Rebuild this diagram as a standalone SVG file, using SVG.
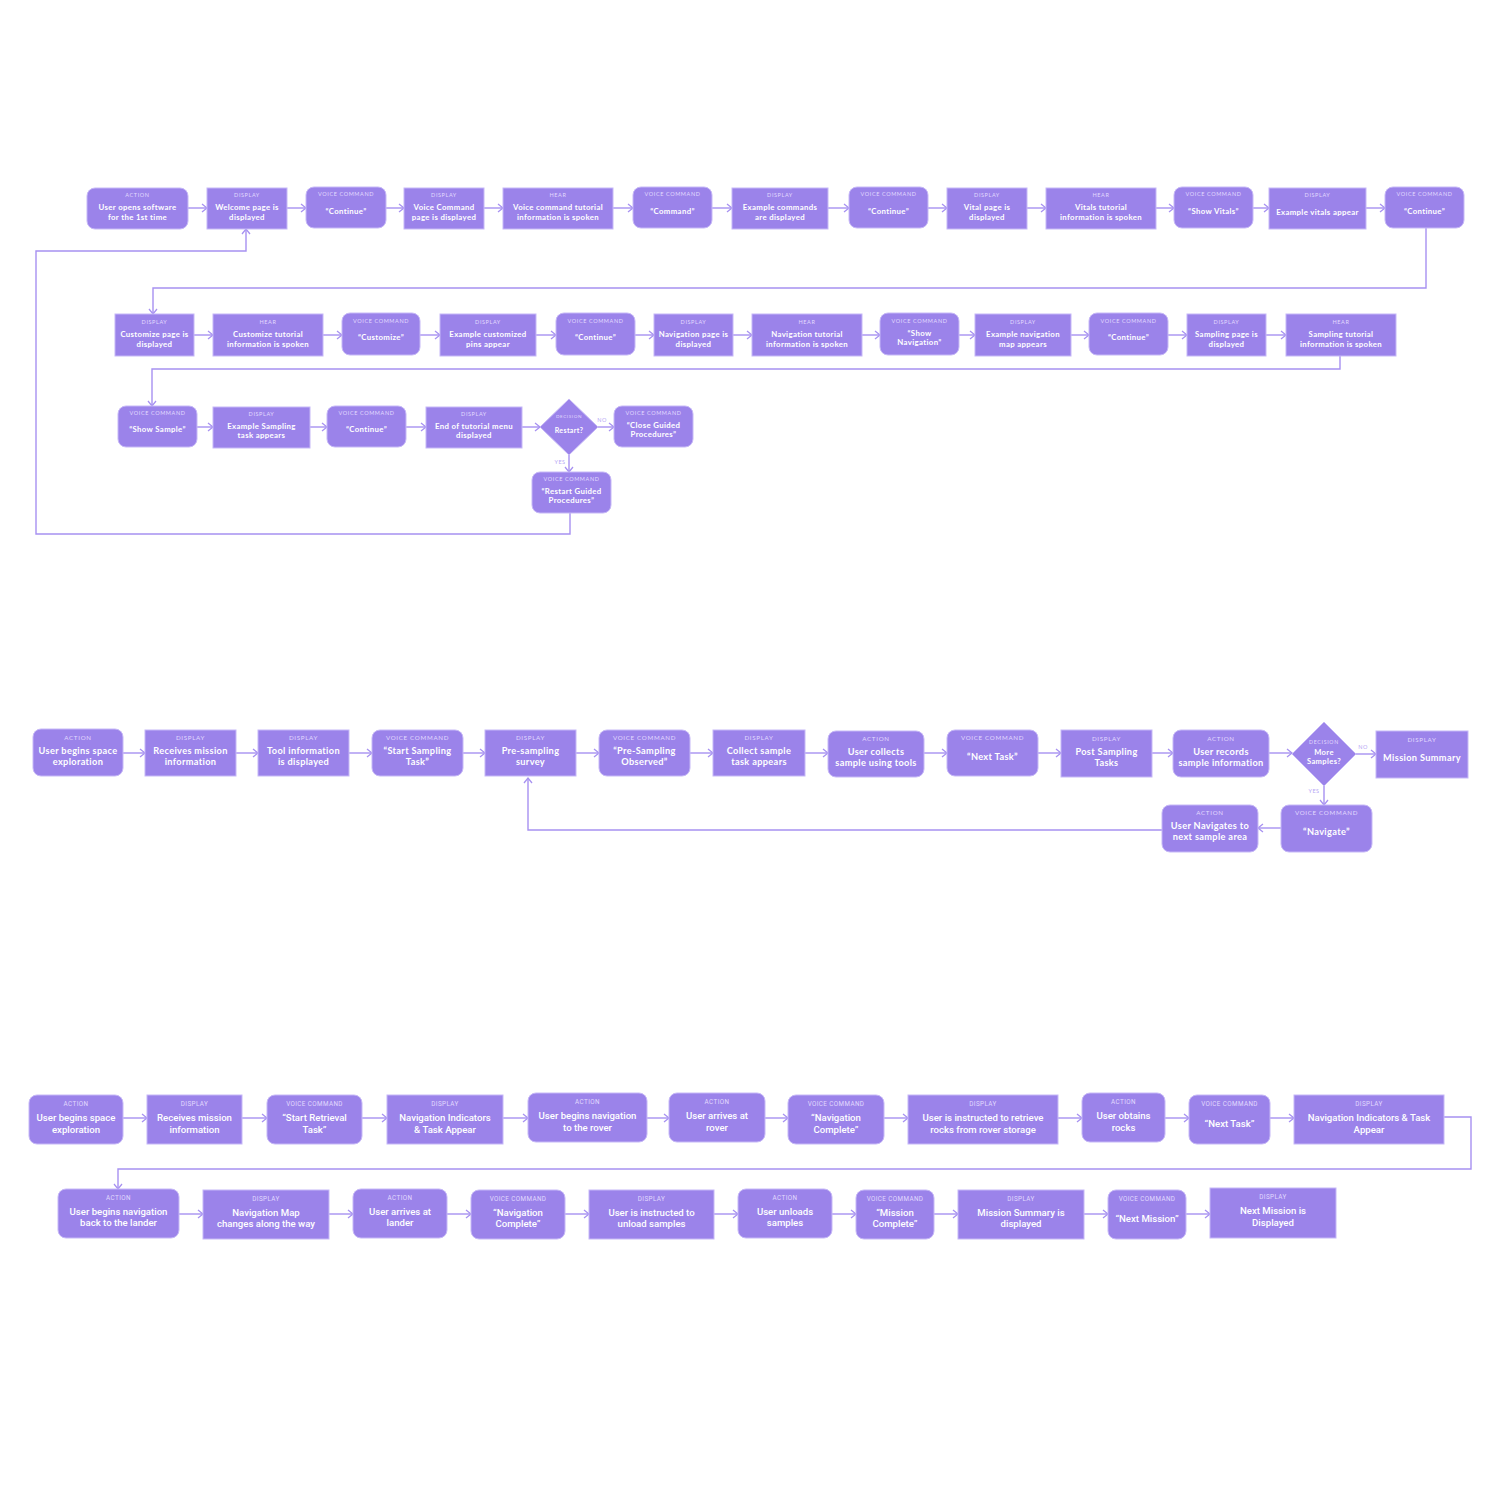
<svg xmlns="http://www.w3.org/2000/svg" width="1500" height="1500" viewBox="0 0 1500 1500">
<style>
.n{fill:#9b83ea;stroke:#c6b8f7;stroke-width:1}
.l{font-family:Lato,"Open Sans",sans-serif;font-size:5.5px;fill:#e2daff;letter-spacing:0.6px;text-anchor:middle}
.t{font-family:Lato,"Open Sans",sans-serif;font-weight:bold;font-size:7.8px;fill:#ffffff;text-anchor:middle;letter-spacing:0.35px}
.l2{font-family:Lato,"Open Sans",sans-serif;font-size:6.2px;fill:#e2daff;letter-spacing:0.7px;text-anchor:middle}
.t2{font-family:Lato,"Open Sans",sans-serif;font-weight:bold;font-size:9.2px;fill:#ffffff;text-anchor:middle;letter-spacing:0.35px}
.l3{font-family:Roboto,"Open Sans",sans-serif;font-size:6.3px;fill:#e2daff;letter-spacing:0.4px;text-anchor:middle}
.t3{font-family:Roboto,"Open Sans",sans-serif;font-weight:500;font-size:9.6px;fill:#ffffff;text-anchor:middle}
.c{fill:none;stroke:#a791f1;stroke-width:1.4;marker-end:url(#ah)}
.yn{font-family:Lato,sans-serif;font-size:5.5px;fill:#b6a6f5;letter-spacing:0.5px;text-anchor:middle}
</style>
<defs>
<marker id="ah" markerUnits="userSpaceOnUse" markerWidth="10" markerHeight="10" refX="6" refY="5" orient="auto">
<path d="M1,1 L6,5 L1,9" fill="none" stroke="#a791f1" stroke-width="1.3"/>
</marker>
</defs>
<rect width="1500" height="1500" fill="#ffffff"/>

<g id="connectors">
<path class="c" d="M188,208 H207"/>
<path class="c" d="M287,208 H306"/>
<path class="c" d="M386,208 H404"/>
<path class="c" d="M484,208 H503"/>
<path class="c" d="M613,208 H633"/>
<path class="c" d="M712,208 H732"/>
<path class="c" d="M828,208 H849"/>
<path class="c" d="M928,208 H947"/>
<path class="c" d="M1027,208 H1046"/>
<path class="c" d="M1156,208 H1174"/>
<path class="c" d="M1253,208 H1269"/>
<path class="c" d="M1366,208 H1385"/>
<path class="c" d="M1426,228 V288 H153 V314"/>
<path class="c" d="M194,335 H213"/>
<path class="c" d="M323,335 H342"/>
<path class="c" d="M420,335 H440"/>
<path class="c" d="M536,335 H556"/>
<path class="c" d="M635,335 H654"/>
<path class="c" d="M733,335 H752"/>
<path class="c" d="M862,335 H880"/>
<path class="c" d="M959,335 H975"/>
<path class="c" d="M1071,335 H1089"/>
<path class="c" d="M1168,335 H1187"/>
<path class="c" d="M1266,335 H1286"/>
<path class="c" d="M1340,356 V369 H152 V406"/>
<path class="c" d="M197,427 H213"/>
<path class="c" d="M310,427 H327"/>
<path class="c" d="M406,427 H426"/>
<path class="c" d="M522,427 H540"/>
<path class="c" d="M598,427 H614"/>
<path class="c" d="M569,455 V472"/>
<path class="c" d="M570,513 V534 H36 V251 H246 V229"/>
<text class="yn" x="602" y="422">NO</text>
<text class="yn" x="560" y="464">YES</text>
<path class="c" d="M123,753 H145"/>
<path class="c" d="M236,753 H258"/>
<path class="c" d="M349,753 H372"/>
<path class="c" d="M463,753 H485"/>
<path class="c" d="M576,753 H599"/>
<path class="c" d="M690,753 H713"/>
<path class="c" d="M805,753 H828"/>
<path class="c" d="M924,753 H947"/>
<path class="c" d="M1038,753 H1061"/>
<path class="c" d="M1152,753 H1173"/>
<path class="c" d="M1269,753 H1292"/>
<path class="c" d="M1356,754 H1376"/>
<path class="c" d="M1324,786 V805"/>
<path class="c" d="M1281,828 H1258"/>
<path class="c" d="M1162,830 H528 V778"/>
<text class="yn" x="1363" y="749">NO</text>
<text class="yn" x="1314" y="793">YES</text>
<path class="c" d="M123,1118 H147"/>
<path class="c" d="M242,1118 H267"/>
<path class="c" d="M362,1118 H387"/>
<path class="c" d="M503,1118 H528"/>
<path class="c" d="M647,1118 H669"/>
<path class="c" d="M765,1118 H788"/>
<path class="c" d="M884,1118 H908"/>
<path class="c" d="M1058,1118 H1082"/>
<path class="c" d="M1165,1118 H1189"/>
<path class="c" d="M1270,1118 H1294"/>
<path class="c" d="M1444,1117 H1471 V1169 H118 V1189"/>
<path class="c" d="M179,1214 H203"/>
<path class="c" d="M329,1214 H353"/>
<path class="c" d="M447,1214 H471"/>
<path class="c" d="M565,1214 H589"/>
<path class="c" d="M714,1214 H738"/>
<path class="c" d="M832,1214 H856"/>
<path class="c" d="M934,1214 H958"/>
<path class="c" d="M1084,1214 H1108"/>
<path class="c" d="M1186,1214 H1210"/>
</g>

<g id="a1"><rect class="n" x="87" y="188" width="101" height="41" rx="8"/><text class="l" x="137.5" y="197">ACTION</text><text class="t" x="137.5" y="210">User opens software</text><text class="t" x="137.5" y="219.5">for the 1st time</text></g>
<g id="a2"><rect class="n" x="207" y="188" width="80" height="41"/><text class="l" x="247" y="197">DISPLAY</text><text class="t" x="247" y="210">Welcome page is</text><text class="t" x="247" y="219.5">displayed</text></g>
<g id="a3"><rect class="n" x="306" y="187" width="80" height="41" rx="8"/><text class="l" x="346" y="196">VOICE COMMAND</text><text class="t" x="346" y="213.5">“Continue”</text></g>
<g id="a4"><rect class="n" x="404" y="188" width="80" height="41"/><text class="l" x="444" y="197">DISPLAY</text><text class="t" x="444" y="210">Voice Command</text><text class="t" x="444" y="219.5">page is displayed</text></g>
<g id="a5"><rect class="n" x="503" y="188" width="110" height="41"/><text class="l" x="558" y="197">HEAR</text><text class="t" x="558" y="210">Voice command tutorial</text><text class="t" x="558" y="219.5">information is spoken</text></g>
<g id="a6"><rect class="n" x="633" y="187" width="79" height="41" rx="8"/><text class="l" x="672.5" y="196">VOICE COMMAND</text><text class="t" x="672.5" y="213.5">“Command”</text></g>
<g id="a7"><rect class="n" x="732" y="188" width="96" height="41"/><text class="l" x="780" y="197">DISPLAY</text><text class="t" x="780" y="210">Example commands</text><text class="t" x="780" y="219.5">are displayed</text></g>
<g id="a8"><rect class="n" x="849" y="187" width="79" height="41" rx="8"/><text class="l" x="888.5" y="196">VOICE COMMAND</text><text class="t" x="888.5" y="213.5">“Continue”</text></g>
<g id="a9"><rect class="n" x="947" y="188" width="80" height="41"/><text class="l" x="987" y="197">DISPLAY</text><text class="t" x="987" y="210">Vital page is</text><text class="t" x="987" y="219.5">displayed</text></g>
<g id="a10"><rect class="n" x="1046" y="188" width="110" height="41"/><text class="l" x="1101" y="197">HEAR</text><text class="t" x="1101" y="210">Vitals tutorial</text><text class="t" x="1101" y="219.5">information is spoken</text></g>
<g id="a11"><rect class="n" x="1174" y="187" width="79" height="41" rx="8"/><text class="l" x="1213.5" y="196">VOICE COMMAND</text><text class="t" x="1213.5" y="213.5">“Show Vitals”</text></g>
<g id="a12"><rect class="n" x="1269" y="188" width="97" height="41"/><text class="l" x="1317.5" y="197">DISPLAY</text><text class="t" x="1317.5" y="214.5">Example vitals appear</text></g>
<g id="a13"><rect class="n" x="1385" y="187" width="79" height="41" rx="8"/><text class="l" x="1424.5" y="196">VOICE COMMAND</text><text class="t" x="1424.5" y="213.5">“Continue”</text></g>

<g id="b1"><rect class="n" x="115" y="314" width="79" height="42"/><text class="l" x="154.5" y="324">DISPLAY</text><text class="t" x="154.5" y="337">Customize page is</text><text class="t" x="154.5" y="346.5">displayed</text></g>
<g id="b2"><rect class="n" x="213" y="314" width="110" height="42"/><text class="l" x="268" y="324">HEAR</text><text class="t" x="268" y="337">Customize tutorial</text><text class="t" x="268" y="346.5">information is spoken</text></g>
<g id="b3"><rect class="n" x="342" y="313" width="78" height="42" rx="8"/><text class="l" x="381" y="323">VOICE COMMAND</text><text class="t" x="381" y="340">“Customize”</text></g>
<g id="b4"><rect class="n" x="440" y="314" width="96" height="42"/><text class="l" x="488" y="324">DISPLAY</text><text class="t" x="488" y="337">Example customized</text><text class="t" x="488" y="346.5">pins appear</text></g>
<g id="b5"><rect class="n" x="556" y="313" width="79" height="42" rx="8"/><text class="l" x="595.5" y="323">VOICE COMMAND</text><text class="t" x="595.5" y="340">“Continue”</text></g>
<g id="b6"><rect class="n" x="654" y="314" width="79" height="42"/><text class="l" x="693.5" y="324">DISPLAY</text><text class="t" x="693.5" y="337">Navigation page is</text><text class="t" x="693.5" y="346.5">displayed</text></g>
<g id="b7"><rect class="n" x="752" y="314" width="110" height="42"/><text class="l" x="807" y="324">HEAR</text><text class="t" x="807" y="337">Navigation tutorial</text><text class="t" x="807" y="346.5">information is spoken</text></g>
<g id="b8"><rect class="n" x="880" y="313" width="79" height="42" rx="8"/><text class="l" x="919.5" y="323">VOICE COMMAND</text><text class="t" x="919.5" y="335.5">“Show</text><text class="t" x="919.5" y="345">Navigation”</text></g>
<g id="b9"><rect class="n" x="975" y="314" width="96" height="42"/><text class="l" x="1023" y="324">DISPLAY</text><text class="t" x="1023" y="337">Example navigation</text><text class="t" x="1023" y="346.5">map appears</text></g>
<g id="b10"><rect class="n" x="1089" y="313" width="79" height="42" rx="8"/><text class="l" x="1128.5" y="323">VOICE COMMAND</text><text class="t" x="1128.5" y="340">“Continue”</text></g>
<g id="b11"><rect class="n" x="1187" y="314" width="79" height="42"/><text class="l" x="1226.5" y="324">DISPLAY</text><text class="t" x="1226.5" y="337">Sampling page is</text><text class="t" x="1226.5" y="346.5">displayed</text></g>
<g id="b12"><rect class="n" x="1286" y="314" width="110" height="42"/><text class="l" x="1341" y="324">HEAR</text><text class="t" x="1341" y="337">Sampling tutorial</text><text class="t" x="1341" y="346.5">information is spoken</text></g>

<g id="c1"><rect class="n" x="118" y="406" width="79" height="41" rx="8"/><text class="l" x="157.5" y="415">VOICE COMMAND</text><text class="t" x="157.5" y="432">“Show Sample”</text></g>
<g id="c2"><rect class="n" x="213" y="407" width="97" height="41"/><text class="l" x="261.5" y="416">DISPLAY</text><text class="t" x="261.5" y="428.5">Example Sampling</text><text class="t" x="261.5" y="438">task appears</text></g>
<g id="c3"><rect class="n" x="327" y="406" width="79" height="41" rx="8"/><text class="l" x="366.5" y="415">VOICE COMMAND</text><text class="t" x="366.5" y="432">“Continue”</text></g>
<g id="c4"><rect class="n" x="426" y="407" width="96" height="41"/><text class="l" x="474" y="416">DISPLAY</text><text class="t" x="474" y="428.5">End of tutorial menu</text><text class="t" x="474" y="438">displayed</text></g>
<g id="c5"><path class="n" d="M569,399 L598,427 L569,455 L540,427 Z"/><text class="l" x="569" y="418" style="font-size:4.6px">DECISION</text><text class="t" x="569" y="433" style="font-size:7px">Restart?</text></g>
<g id="c6"><rect class="n" x="614" y="406" width="79" height="41" rx="8"/><text class="l" x="653.5" y="415">VOICE COMMAND</text><text class="t" x="653.5" y="427.5">“Close Guided</text><text class="t" x="653.5" y="437">Procedures”</text></g>
<g id="c7"><rect class="n" x="532" y="472" width="79" height="41" rx="8"/><text class="l" x="571.5" y="481">VOICE COMMAND</text><text class="t" x="571.5" y="493.5">“Restart Guided</text><text class="t" x="571.5" y="503">Procedures”</text></g>

<g id="d1"><rect class="n" x="33" y="729" width="90" height="47" rx="8"/><text class="l2" x="78" y="739.5">ACTION</text><text class="t2" x="78" y="754">User begins space</text><text class="t2" x="78" y="765">exploration</text></g>
<g id="d2"><rect class="n" x="145" y="730" width="91" height="46"/><text class="l2" x="190.5" y="740">DISPLAY</text><text class="t2" x="190.5" y="754">Receives mission</text><text class="t2" x="190.5" y="765">information</text></g>
<g id="d3"><rect class="n" x="258" y="730" width="91" height="46"/><text class="l2" x="303.5" y="740">DISPLAY</text><text class="t2" x="303.5" y="754">Tool information</text><text class="t2" x="303.5" y="765">is displayed</text></g>
<g id="d4"><rect class="n" x="372" y="730" width="91" height="46" rx="8"/><text class="l2" x="417.5" y="740">VOICE COMMAND</text><text class="t2" x="417.5" y="754">“Start Sampling</text><text class="t2" x="417.5" y="765">Task”</text></g>
<g id="d5"><rect class="n" x="485" y="730" width="91" height="46"/><text class="l2" x="530.5" y="740">DISPLAY</text><text class="t2" x="530.5" y="754">Pre-sampling</text><text class="t2" x="530.5" y="765">survey</text></g>
<g id="d6"><rect class="n" x="599" y="730" width="91" height="46" rx="8"/><text class="l2" x="644.5" y="740">VOICE COMMAND</text><text class="t2" x="644.5" y="754">“Pre-Sampling</text><text class="t2" x="644.5" y="765">Observed”</text></g>
<g id="d7"><rect class="n" x="713" y="730" width="92" height="46"/><text class="l2" x="759" y="740">DISPLAY</text><text class="t2" x="759" y="754">Collect sample</text><text class="t2" x="759" y="765">task appears</text></g>
<g id="d8"><rect class="n" x="828" y="731" width="96" height="46" rx="8"/><text class="l2" x="876" y="741">ACTION</text><text class="t2" x="876" y="755">User collects</text><text class="t2" x="876" y="766">sample using tools</text></g>
<g id="d9"><rect class="n" x="947" y="730" width="91" height="46" rx="8"/><text class="l2" x="992.5" y="740">VOICE COMMAND</text><text class="t2" x="992.5" y="760">“Next Task”</text></g>
<g id="d10"><rect class="n" x="1061" y="730" width="91" height="47"/><text class="l2" x="1106.5" y="740.5">DISPLAY</text><text class="t2" x="1106.5" y="754.5">Post Sampling</text><text class="t2" x="1106.5" y="765.5">Tasks</text></g>
<g id="d11"><rect class="n" x="1173" y="730" width="96" height="47" rx="8"/><text class="l2" x="1221" y="740.5">ACTION</text><text class="t2" x="1221" y="754.5">User records</text><text class="t2" x="1221" y="765.5">sample information</text></g>
<g id="d12"><path class="n" d="M1324,722 L1356,754 L1324,786 L1292,754 Z"/><text class="l2" x="1324" y="744" style="font-size:5.2px">DECISION</text><text class="t2" x="1324" y="754.5" style="font-size:7.6px">More</text><text class="t2" x="1324" y="764" style="font-size:7.6px">Samples?</text></g>
<g id="d13"><rect class="n" x="1376" y="731" width="92" height="47"/><text class="l2" x="1422" y="741.5">DISPLAY</text><text class="t2" x="1422" y="761">Mission Summary</text></g>
<g id="d14"><rect class="n" x="1281" y="805" width="91" height="47" rx="8"/><text class="l2" x="1326.5" y="815">VOICE COMMAND</text><text class="t2" x="1326.5" y="835">“Navigate”</text></g>
<g id="d15"><rect class="n" x="1162" y="805" width="96" height="47" rx="8"/><text class="l2" x="1210" y="815">ACTION</text><text class="t2" x="1210" y="829">User Navigates to</text><text class="t2" x="1210" y="840">next sample area</text></g>

<g id="e1"><rect class="n" x="29" y="1095" width="94" height="49" rx="8"/><text class="l3" x="76" y="1106">ACTION</text><text class="t3" x="76" y="1121">User begins space</text><text class="t3" x="76" y="1132.5">exploration</text></g>
<g id="e2"><rect class="n" x="147" y="1095" width="95" height="49"/><text class="l3" x="194.5" y="1106">DISPLAY</text><text class="t3" x="194.5" y="1121">Receives mission</text><text class="t3" x="194.5" y="1132.5">information</text></g>
<g id="e3"><rect class="n" x="267" y="1095" width="95" height="49" rx="8"/><text class="l3" x="314.5" y="1106">VOICE COMMAND</text><text class="t3" x="314.5" y="1121">“Start Retrieval</text><text class="t3" x="314.5" y="1132.5">Task”</text></g>
<g id="e4"><rect class="n" x="387" y="1095" width="116" height="49"/><text class="l3" x="445" y="1106">DISPLAY</text><text class="t3" x="445" y="1121">Navigation Indicators</text><text class="t3" x="445" y="1132.5">&amp; Task Appear</text></g>
<g id="e5"><rect class="n" x="528" y="1093" width="119" height="49" rx="8"/><text class="l3" x="587.5" y="1104">ACTION</text><text class="t3" x="587.5" y="1119">User begins navigation</text><text class="t3" x="587.5" y="1130.5">to the rover</text></g>
<g id="e6"><rect class="n" x="669" y="1093" width="96" height="49" rx="8"/><text class="l3" x="717" y="1104">ACTION</text><text class="t3" x="717" y="1119">User arrives at</text><text class="t3" x="717" y="1130.5">rover</text></g>
<g id="e7"><rect class="n" x="788" y="1095" width="96" height="49" rx="8"/><text class="l3" x="836" y="1106">VOICE COMMAND</text><text class="t3" x="836" y="1121">“Navigation</text><text class="t3" x="836" y="1132.5">Complete”</text></g>
<g id="e8"><rect class="n" x="908" y="1095" width="150" height="49"/><text class="l3" x="983" y="1106">DISPLAY</text><text class="t3" x="983" y="1121">User is instructed to retrieve</text><text class="t3" x="983" y="1132.5">rocks from rover storage</text></g>
<g id="e9"><rect class="n" x="1082" y="1093" width="83" height="49" rx="8"/><text class="l3" x="1123.5" y="1104">ACTION</text><text class="t3" x="1123.5" y="1119">User obtains</text><text class="t3" x="1123.5" y="1130.5">rocks</text></g>
<g id="e10"><rect class="n" x="1189" y="1095" width="81" height="49" rx="8"/><text class="l3" x="1229.5" y="1106">VOICE COMMAND</text><text class="t3" x="1229.5" y="1126.5">“Next Task”</text></g>
<g id="e11"><rect class="n" x="1294" y="1095" width="150" height="49"/><text class="l3" x="1369" y="1106">DISPLAY</text><text class="t3" x="1369" y="1121">Navigation Indicators &amp; Task</text><text class="t3" x="1369" y="1132.5">Appear</text></g>

<g id="f1"><rect class="n" x="58" y="1189" width="121" height="49" rx="8"/><text class="l3" x="118.5" y="1200">ACTION</text><text class="t3" x="118.5" y="1214.5">User begins navigation</text><text class="t3" x="118.5" y="1226">back to the lander</text></g>
<g id="f2"><rect class="n" x="203" y="1190" width="126" height="49"/><text class="l3" x="266" y="1201">DISPLAY</text><text class="t3" x="266" y="1215.5">Navigation Map</text><text class="t3" x="266" y="1227">changes along the way</text></g>
<g id="f3"><rect class="n" x="353" y="1189" width="94" height="49" rx="8"/><text class="l3" x="400" y="1200">ACTION</text><text class="t3" x="400" y="1214.5">User arrives at</text><text class="t3" x="400" y="1226">lander</text></g>
<g id="f4"><rect class="n" x="471" y="1190" width="94" height="49" rx="8"/><text class="l3" x="518" y="1201">VOICE COMMAND</text><text class="t3" x="518" y="1215.5">“Navigation</text><text class="t3" x="518" y="1227">Complete”</text></g>
<g id="f5"><rect class="n" x="589" y="1190" width="125" height="49"/><text class="l3" x="651.5" y="1201">DISPLAY</text><text class="t3" x="651.5" y="1215.5">User is instructed to</text><text class="t3" x="651.5" y="1227">unload samples</text></g>
<g id="f6"><rect class="n" x="738" y="1189" width="94" height="49" rx="8"/><text class="l3" x="785" y="1200">ACTION</text><text class="t3" x="785" y="1214.5">User unloads</text><text class="t3" x="785" y="1226">samples</text></g>
<g id="f7"><rect class="n" x="856" y="1190" width="78" height="49" rx="8"/><text class="l3" x="895" y="1201">VOICE COMMAND</text><text class="t3" x="895" y="1215.5">“Mission</text><text class="t3" x="895" y="1227">Complete”</text></g>
<g id="f8"><rect class="n" x="958" y="1190" width="126" height="49"/><text class="l3" x="1021" y="1201">DISPLAY</text><text class="t3" x="1021" y="1215.5">Mission Summary is</text><text class="t3" x="1021" y="1227">displayed</text></g>
<g id="f9"><rect class="n" x="1108" y="1190" width="78" height="49" rx="8"/><text class="l3" x="1147" y="1201">VOICE COMMAND</text><text class="t3" x="1147" y="1221.5">“Next Mission”</text></g>
<g id="f10"><rect class="n" x="1210" y="1188" width="126" height="50"/><text class="l3" x="1273" y="1199">DISPLAY</text><text class="t3" x="1273" y="1214">Next Mission is</text><text class="t3" x="1273" y="1225.5">Displayed</text></g>
</svg>
